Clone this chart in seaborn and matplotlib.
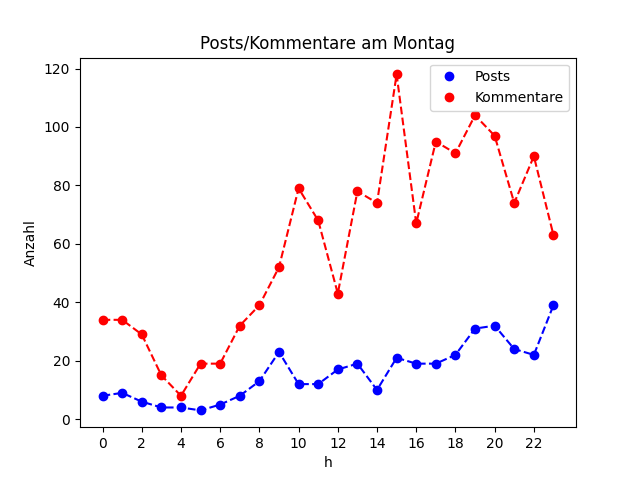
import matplotlib
matplotlib.use("Agg")
import matplotlib.pyplot as plt
import seaborn as sns

hours = list(range(24))
posts = [8, 9, 6, 4, 4, 3, 5, 8, 13, 23, 12, 12, 17, 19, 10, 21, 19, 19, 22, 31, 32, 24, 22, 39]
kommentare = [34, 34, 29, 15, 8, 19, 19, 32, 39, 52, 79, 68, 43, 78, 74, 118, 67, 95, 91, 104, 97, 74, 90, 63]

plt.style.use("default")
fig, ax = plt.subplots(figsize=(6.4, 4.8), dpi=100)

# markers only in the legend, dashed connecting lines unlabeled
ax.plot(hours, posts, "o", color="blue", label="Posts")
ax.plot(hours, kommentare, "o", color="red", label="Kommentare")
sns.lineplot(x=hours, y=posts, ax=ax, color="blue", linestyle="--", legend=False)
sns.lineplot(x=hours, y=kommentare, ax=ax, color="red", linestyle="--", legend=False)

ax.set_xticks(range(0, 24, 2))
ax.set_xlabel("h")
ax.set_ylabel("Anzahl")
ax.set_title("Posts/Kommentare am Montag")
ax.legend(loc="upper right")

fig.savefig("out.png")
